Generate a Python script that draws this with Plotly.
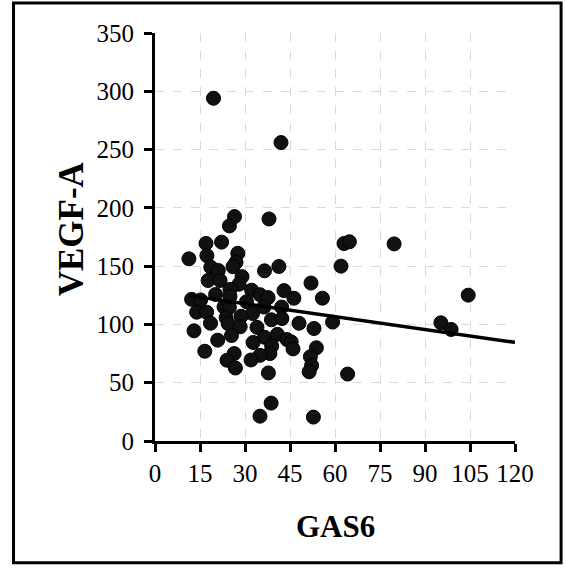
import plotly.graph_objects as go

# GAS6 (x) and VEGF-A (y) values
gas6 = [19.5, 42, 26.5, 24.8, 38, 17, 22.2, 11.3, 17.3, 27.6,
        27, 26, 18.6, 21.1, 36.5, 41.3, 63, 64.8, 79.7, 62,
        17.7, 21.7, 29, 28, 25, 20.2, 32.2, 35, 37.7, 43,
        46.3, 52, 55.8, 12.2, 15.2, 13.9, 17.2, 23, 24.8, 30.5,
        32.5, 28.7, 23.7, 36.3, 42.2, 38.8, 42.3, 18.5, 48, 53,
        59.2, 13, 24.4, 28.4, 34, 95.3, 98.7, 104.4, 16.6, 20.9,
        25.5, 36.5, 40.8, 32.7, 44, 45.4, 46, 38.9, 38.3, 35,
        32, 26.4, 24, 26.8, 37.8, 53.8, 51.8, 52.2, 51.4, 64.2,
        38.7, 35, 52.8, 25]
vegfa = [294, 256, 192.5, 184.5, 190.5, 169.5, 170.6, 156.3, 159, 161,
         153.4, 149.5, 149.1, 146.3, 146, 149.7, 169.4, 170.9, 169.1, 150,
         137.7, 137.7, 141, 134.5, 130, 125.7, 129.4, 125.5, 123, 129,
         122.5, 135.5, 122.5, 121.5, 121, 110.5, 110.5, 115, 114.5, 119.5,
         109.4, 107, 105.7, 114.9, 114.9, 104, 105, 101, 101, 96.5,
         102, 94.5, 100.6, 98, 97.5, 101.4, 95.7, 125.1, 77, 86.5,
         90.5, 89, 91.5, 84.5, 87, 85, 79, 81.4, 75, 73.5,
         69.5, 75, 69.3, 62.6, 58.4, 80, 72.3, 64.8, 59.4, 57.4,
         32.5, 21.3, 20.5, 124]

# Linear trend line end points
trend_x = [11.3, 120]
trend_y = [124.7, 84.6]

x_ticks = [0, 15, 30, 45, 60, 75, 90, 105, 120]
y_ticks = [0, 50, 100, 150, 200, 250, 300, 350]

FONT = "Liberation Serif, Times New Roman, serif"

fig = go.Figure()
fig.add_trace(go.Scatter(
    x=gas6, y=vegfa, mode="markers",
    marker=dict(size=14, color="#111111", line=dict(color="#000000", width=1)),
    showlegend=False, hoverinfo="x+y"))
fig.add_trace(go.Scatter(
    x=trend_x, y=trend_y, mode="lines",
    line=dict(color="#000000", width=3.5),
    showlegend=False, hoverinfo="skip"))

axis_common = dict(
    showline=True, linecolor="#000000", linewidth=3,
    ticks="outside", ticklen=8, tickwidth=3, tickcolor="#000000",
    showgrid=True, gridcolor="#d9d9d9", gridwidth=1, griddash="dash",
    zeroline=False, tickfont=dict(family=FONT, size=25, color="#000000"),
    mirror=False, fixedrange=True,
)

fig.update_xaxes(range=[0, 120], tickvals=x_ticks, ticklabelstandoff=0, **axis_common)
fig.update_yaxes(range=[0, 350], tickvals=y_ticks, ticklabelstandoff=5, **axis_common)

fig.update_layout(
    width=566, height=570,
    margin=dict(l=155.3, r=50.7, t=32.5, b=129.3),
    paper_bgcolor="#ffffff", plot_bgcolor="#ffffff",
    font=dict(family=FONT, color="#000000"),
    annotations=[
        dict(text="<b>GAS6</b>", xref="paper", yref="paper", x=0.5, y=-0.21,
             showarrow=False, font=dict(family=FONT, size=31, color="#000000"),
             xanchor="center", yanchor="middle"),
        dict(text="<b>VEGF-A</b>", xref="paper", yref="paper", x=-0.231, y=0.521,
             showarrow=False, textangle=-90,
             font=dict(family=FONT, size=35, color="#000000"),
             xanchor="center", yanchor="middle"),
    ],
    shapes=[dict(type="rect", xref="paper", yref="paper",
                 x0=-0.393, x1=1.128, y0=-0.2985, y1=1.0735,
                 line=dict(color="#000000", width=3), fillcolor="rgba(0,0,0,0)",
                 layer="below")],
)

fig.write_html("out.html")
